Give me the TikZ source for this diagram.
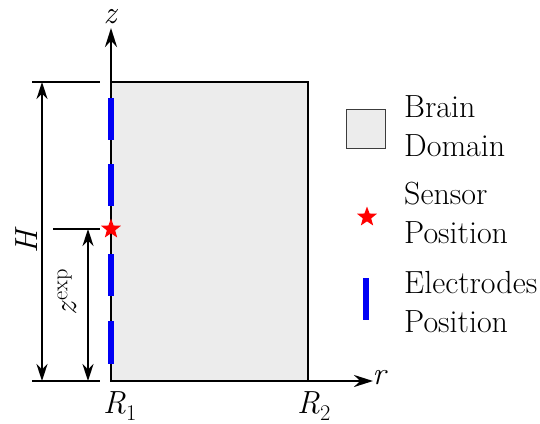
\documentclass[tikz,border=0pt]{standalone}
\usetikzlibrary{arrows.meta,shapes.geometric,positioning}
\definecolor{brainfill}{RGB}{236, 236, 236}
\definecolor{elecblue}{RGB}{0, 0, 245}
\definecolor{legframe}{RGB}{60, 60, 60}

\begin{document}
\begin{tikzpicture}[
      x=1pt, y=-1pt,
      axis/.style={line width=2.6pt, -{Stealth[length=19pt,width=12pt]}},
      brainbox/.style={draw, line width=2.2pt, fill=brainfill},
      extline/.style={line width=2pt},
      dimline/.style={line width=2pt, {Stealth[length=17pt,width=11pt]}-{Stealth[length=17pt,width=11pt]}},
      electrode/.style={draw=elecblue, line width=5.5pt},
      sensor/.style={star, star points=5, star point ratio=2.4, fill=red, inner sep=0pt, minimum size=21pt},
      lbl/.style={font=\fontsize{32}{39}\selectfont, inner sep=0pt},
      legtext/.style={lbl, align=left, anchor=west}
    ]
      \useasboundingbox (0,0) rectangle (540,423);

      % domain and axes
      \draw[brainbox] (111,82) rectangle (308,381);
      \coordinate (O) at (111,381);
      \coordinate (ztip) at (111,28);
      \coordinate (rtip) at (373,381);
      \draw[axis] (O) -- (ztip);
      \draw[axis] (O) -- (rtip);
      \node[lbl] (zlab) at (111,17) {\textit{z}};
      \node[lbl] (rlab) at (380,378) {\textit{r}};
      \node[lbl] (R1) at (120,406) {\textit{R}\textsubscript{1}};
      \node[lbl] (R2) at (314,406) {\textit{R}\textsubscript{2}};

      % electrodes
      \foreach \a/\b [count=\i] in {98/140, 164/206, 254/296, 321/364} {
        \coordinate (e\i a) at (111,\a);
        \coordinate (e\i b) at (111,\b);
        \draw[electrode] (e\i a) -- (e\i b);
      }
      \node[sensor] (sens) at (111,229) {};

      % dimension H
      \coordinate (Htl) at (32,82);  \coordinate (Htr) at (100,82);
      \coordinate (Hbl) at (32,381); \coordinate (Hbr) at (100,381);
      \coordinate (Ha) at (42,82);   \coordinate (Hb) at (42,381);
      \draw[extline] (Htl) -- (Htr);
      \draw[extline] (Hbl) -- (Hbr);
      \draw[dimline] (Ha) -- (Hb);
      \node[lbl, rotate=90] (Hlab) at (27,240) {\textit{H}};

      % dimension z exp
      \coordinate (Ztl) at (53,229); \coordinate (Ztr) at (100,229);
      \coordinate (Za) at (88,229);  \coordinate (Zb) at (88,381);
      \draw[extline] (Ztl) -- (Ztr);
      \draw[dimline] (Za) -- (Zb);
      \node[lbl, rotate=90] (Zlab) at (67,292) {\textit{z}\textsuperscript{exp}};

      % legend
      \node[draw=legframe, line width=1.6pt, fill=brainfill, minimum size=39pt, inner sep=0pt] (legdom) at (366,129) {};
      \node[legtext] (legdomtxt) at (404,126) {Brain\\Domain};
      \node[sensor] (legsens) at (367,217) {};
      \node[legtext] (legsenstxt) at (404,213) {Sensor\\Position};
      \coordinate (legea) at (366,278);
      \coordinate (legeb) at (366,320);
      \draw[electrode, line width=6pt] (legea) -- (legeb);
      \node[legtext] (legeltxt) at (404,302) {Electrodes\\Position};
    \end{tikzpicture}
\end{document}
